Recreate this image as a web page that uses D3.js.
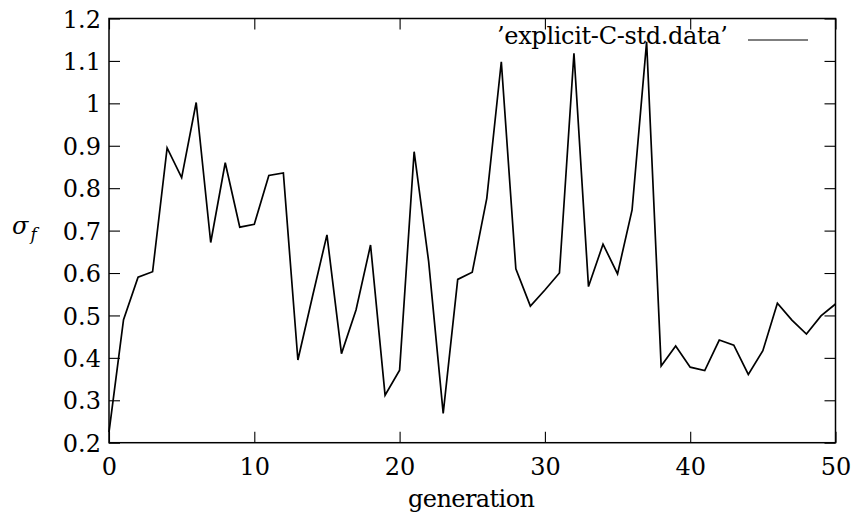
<!DOCTYPE html>
<html>
<head>
<meta charset="utf-8">
<script src="https://cdn.jsdelivr.net/npm/d3@7"></script>
<style>
  body { margin: 0; background: white; }
</style>
</head>
<body>
<div id="chart"></div>
<script>
let w = 857;
let h = 519;
let margin = {top: 18.5, right: 21.5, bottom: 76.3, left: 109};

// values, one per generation
let generations = d3.range(0, 51);
let sigmaF = [
  0.225, 0.49, 0.59, 0.603, 0.895, 0.825, 1.002, 0.672, 0.86, 0.708,
  0.715, 0.83, 0.836, 0.395, 0.544, 0.69, 0.41, 0.513, 0.666, 0.312,
  0.371, 0.886, 0.627, 0.269, 0.585, 0.602, 0.776, 1.098, 0.61, 0.522,
  0.56, 0.6, 1.118, 0.568, 0.668, 0.598, 0.749, 1.145, 0.381, 0.428,
  0.378, 0.37, 0.442, 0.43, 0.361, 0.417, 0.529, 0.489, 0.456, 0.499,
  0.527
];
let xTicks = [0, 10, 20, 30, 40, 50];
let yTicks = [0.2, 0.3, 0.4, 0.5, 0.6, 0.7, 0.8, 0.9, 1, 1.1, 1.2];
let legendLabel = "\u2019explicit-C-std.data\u2019";

let font = "DejaVu Serif";

let iw = w - margin.left - margin.right;
let ih = h - margin.top - margin.bottom;

let svg = d3.select("#chart")
  .append("svg")
  .attr("width", w)
  .attr("height", h)
  .attr("font-family", font)
;

let viz = svg.append("g")
  .attr("transform", "translate(" + margin.left + "," + margin.top + ")");

let xScale = d3.scaleLinear().domain([0, 50]).range([0, iw]);
let yScale = d3.scaleLinear().domain([0.2, 1.2]).range([ih, 0]);

let tick = 11;

// bottom axis, ticks pointing in
let xBottom = viz.append("g")
  .attr("transform", "translate(0," + ih + ")")
  .call(d3.axisBottom(xScale).tickValues(xTicks).tickSizeInner(-tick).tickSizeOuter(0).tickFormat(d3.format("d")));
xBottom.attr("font-family", font).attr("font-size", 24);
xBottom.selectAll("text").attr("dy", null).attr("y", 32.5);

// top mirror ticks
viz.append("g")
  .call(d3.axisTop(xScale).tickValues(xTicks).tickSizeInner(-tick).tickSizeOuter(0).tickFormat(""));

let yLeft = viz.append("g")
  .call(d3.axisLeft(yScale).tickValues(yTicks).tickSizeInner(-tick).tickSizeOuter(0).tickFormat(d => d3.format("")(+d.toFixed(1))));
yLeft.attr("font-family", font).attr("font-size", 24);
yLeft.selectAll("text").attr("x", -8).attr("dy", "0.36em");

viz.append("g")
  .attr("transform", "translate(" + iw + ",0)")
  .call(d3.axisRight(yScale).tickValues(yTicks).tickSizeInner(-tick).tickSizeOuter(0).tickFormat(""));

viz.selectAll(".domain").remove();
viz.selectAll(".tick line").attr("stroke", "black").attr("stroke-width", 1.1);

// the data line
let line = d3.line()
  .x((d, i) => xScale(generations[i]))
  .y(d => yScale(d));

viz.append("path")
  .datum(sigmaF)
  .attr("d", line)
  .attr("fill", "none")
  .attr("stroke", "black")
  .attr("stroke-width", 1.7)
  .attr("stroke-linejoin", "miter");

// frame
viz.append("rect")
  .attr("x", 0).attr("y", 0)
  .attr("width", iw).attr("height", ih)
  .attr("fill", "none")
  .attr("stroke", "black")
  .attr("stroke-width", 1.5);

// legend
svg.append("text")
  .attr("x", 728).attr("y", 43.5)
  .attr("text-anchor", "end")
  .attr("textLength", 231)
  .attr("font-size", 24)
  .text(legendLabel);

svg.append("line")
  .attr("x1", 748).attr("x2", 808)
  .attr("y1", 40).attr("y2", 40)
  .attr("stroke", "black")
  .attr("stroke-width", 1.2);

// axis titles
svg.append("text")
  .attr("x", 471.5).attr("y", 507)
  .attr("text-anchor", "middle")
  .attr("textLength", 127)
  .attr("font-size", 24)
  .text("generation");

let ylab = svg.append("text")
  .attr("x", 12).attr("y", 234)
  .attr("font-size", 24)
  .style("font-style", "italic");
ylab.append("tspan").text("σ");
ylab.append("tspan").attr("dx", 2).attr("dy", 6).attr("font-size", 17).text("f");
</script>
</body>
</html>
